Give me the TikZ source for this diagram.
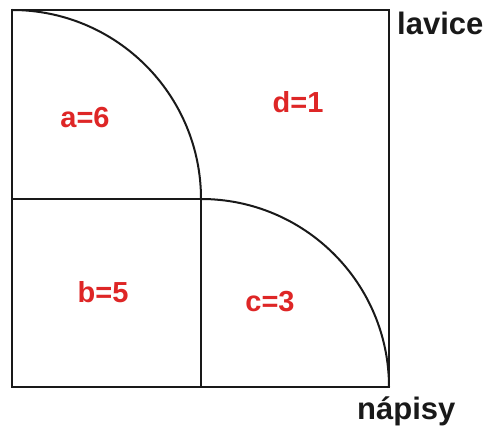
\documentclass[tikz,border=0pt]{standalone}
\usepackage{fontspec}
\setmainfont{Liberation Sans}
\definecolor{labred}{RGB}{222,38,38}
\begin{document}
\begin{tikzpicture}[x=1pt,y=-1pt,
  edge/.style={line width=2pt,black!90},
  val/.style={text=labred,font=\fontsize{29}{29}\selectfont\bfseries,anchor=base,inner sep=0pt},
  side/.style={text=black!90,font=\fontsize{31}{31}\selectfont\bfseries,anchor=base west,inner sep=0pt}]
\useasboundingbox (0,0) rectangle (490,427);
\coordinate (tl) at (12,10);
\coordinate (br) at (389,387);
\coordinate (ml) at (12,199);
\coordinate (mm) at (201,199);
\coordinate (mb) at (201,387);
\draw[edge] (tl) rectangle (br);
\draw[edge] (tl) arc[start angle=90,end angle=0,x radius=189,y radius=-189];
\draw[edge] (ml) -- (mm) -- (mb);
\draw[edge] (mm) arc[start angle=90,end angle=0,x radius=188,y radius=-188];
\node[val] (a) at (85,128) {a=6};
\node[val] (d) at (298,113) {d=1};
\node[val] (b) at (103,303) {b=5};
\node[val] (c) at (270,312) {c=3};
\node[side] (lav) at (397,35) {lavice};
\node[side] (nap) at (357,419.5) {nápisy};
\end{tikzpicture}
\end{document}
